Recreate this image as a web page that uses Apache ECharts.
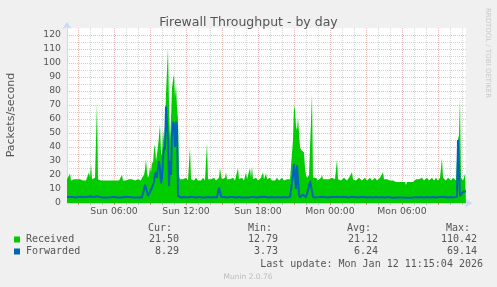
<!DOCTYPE html>
<html><head><meta charset="utf-8">
<script src="https://cdn.jsdelivr.net/npm/echarts@6/dist/echarts.min.js"></script>
<style>html,body{margin:0;padding:0;background:#F0F0F0;}#c{width:497px;height:287px;}</style>
</head><body><div id="c"></div>
<script>
// time axis: one sample per 5 minutes, first sample Sun 02:05
const startMinute = 125;
const stepMinutes = 5;
const dayNames = ['Sun', 'Mon'];

const received = [
 17,17,18,21,16,17,16,17,17,16,17,16,16,17,16,17,16,17,17,16,
 17,20,22,18,28,17,16,17,18,17,72,17,16,17,16,17,16,16,15,16,
 16,16,15,16,16,17,16,15,16,16,16,15,16,16,16,20,16,17,16,16,
 17,16,17,18,16,17,16,17,16,16,16,17,16,17,16,18,17,20,24,31,
 22,18,20,26,22,30,28,38,42,30,35,40,48,56,36,34,52,44,55,78,
 95,110.42,70,45,60,82,88,92,75,85,68,60,20,17,16,17,17,16,17,18,
 17,16,17,40,17,16,17,16,17,18,17,16,17,17,16,17,18,17,16,17,
 43,17,16,17,17,16,17,18,17,16,17,17,18,25,20,17,16,17,18,22,
 17,16,17,17,16,17,18,17,16,17,17,25,17,16,17,18,17,16,17,22,
 17,16,17,25,18,26,17,16,17,18,17,16,17,17,18,20,22,17,18,21,
 17,16,17,18,17,16,17,17,16,17,18,17,16,17,17,18,17,16,17,16,
 17,17,16,17,16,17,45,70,66,55,52,61,50,40,38,38,37,36,25,20,
 18,18,20,20,21,78,18,17,17,18,17,16,17,17,18,20,17,17,16,17,
 18,17,17,16,17,18,17,18,17,17,31,17,18,17,16,17,17,18,17,17,
 16,17,18,17,17,22,17,18,17,16,17,17,18,17,17,16,17,17,18,17,
 16,17,17,18,17,16,17,17,18,17,16,17,17,18,17,17,22,17,16,17,
 17,16,17,16,16,17,16,17,16,15,16,16,15,16,16,15,16,15,15,12.79,
 15,14,15,15,14,15,15,16,16,17,16,17,17,16,17,18,17,16,17,17,
 18,17,16,17,17,18,17,16,17,18,17,16,17,18,17,32,18,17,17,16,
 17,18,17,17,16,17,18,17,17,16,17,46,48,75,18,17,16,18,21,21.5
];
const forwarded = [
 4.2,4.2,4,4.3,4.2,4,4.2,4.4,4.2,4,4.2,4.2,4.4,4.2,4,4.2,4.2,4,4.2,4.3,
 4.2,4.5,4.2,4,4.6,4.2,4,4.2,4.2,4,4.8,4.2,4,4.2,4.2,4,4,4.2,4.2,4,
 4,4.2,4,3.9,4,4.2,4,4,4.2,4,4,3.9,4,4.2,4,4.3,4,4.2,4,4,
 4.2,4,4.2,4.3,4,4.2,4,4.2,4,4,4,4.2,4,4,4,4,4.5,5,13,14,
 8,5,6,8,9,11,10,15,20,22,18,26,30,24,14,18,30,40,38,69,
 69.14,45,12,30,20,48,58,56,40,58,55,5,4,4.2,4,4.2,4,4.2,4,4.2,
 4,4.2,4,4.2,4,4.2,4.3,4,4.2,4,4.2,4,4.2,4,4.2,4,4,4.2,4,4.2,
 4,4.2,4,4.2,4,4.2,4,4.2,4,4.2,4,4.2,11,8,4.5,4.2,4,4.2,4,4.2,
 4,4.2,4,4.2,4,4.2,4.3,4,4.2,4,4.2,4,4.2,4,4.2,4,4,4.2,4,4.2,
 4.2,4,4.2,4,4.2,4,4.3,4.2,4,4.2,4,4.2,4,4.2,4,4.2,4.4,4.2,4,4.2,
 4,4.2,4,4.2,4.5,4.2,4,4.2,4,4.2,4,4.2,4,4.2,4,4.2,4,4.2,4,4.2,
 4,4.2,4,4.2,4,4.5,20,28,28,10,27,26,6,4,4.5,5,6,7,5,4,
 4,4,12,16,16,8,4.2,4,4.2,4,4.2,4,4.2,4,4.2,4.5,4.2,4,4.2,4,
 4.2,4,4.2,4,4.2,4,4.5,4.2,4,4.2,4.5,4.2,4,4.2,4,4.2,4.5,4.2,4,4.2,
 4,4.2,4,4.2,4,4.5,4.2,4,4.2,4,4.2,4,4.2,4,4.2,4,4.2,4.2,4,4.2,
 4,4.2,4,4.2,4,4.2,4,4.2,4,4.2,4,4.2,4,4.2,4,4.2,4.5,4.2,4,4.2,
 4,4.2,4,4.2,4,4,3.9,3.8,3.9,3.8,3.9,3.8,3.8,3.9,3.8,3.8,3.9,3.73,3.8,3.8,
 3.8,3.9,3.8,3.8,3.9,3.8,4,4,4.2,4,4.2,4,4.2,4,4.2,4,4.2,4,4.2,4,
 4.2,4,4.2,4,4.2,4,4.2,4,4.2,4,4.2,4,4.2,4,4.2,4.5,4.2,4,4.2,4,
 4.2,4,4.2,4,4.2,4,4.2,4,4.2,4,4.5,45,45,5,4.5,4,8,8.3,8.3,8.29
];
const yTickLabels = [0,10,20,30,40,50,60,70,80,90,100,110,120];
const seriesNames = ['Received', 'Forwarded'];
const seriesColors = ['#00CC00', '#0066B3'];
const statHeaders = ['Cur:', 'Min:', 'Avg:', 'Max:'];
const receivedStats = ['21.50', '12.79', '21.12', '110.42'];
const forwardedStats = ['8.29', '3.73', '6.24', '69.14'];
const titleText = 'Firewall Throughput - by day';
const yName = 'Packets/second';
const lastUpdate = 'Last update: Mon Jan 12 11:15:04 2026';
const footer = 'Munin 2.0.76';
const watermark = 'RRDTOOL / TOBI OETIKER';

const pad = n => (n < 10 ? '0' : '') + n;
const minuteOf = i => startMinute + stepMinutes * i;
const categories = received.map((_, i) => {
  const m = minuteOf(i);
  return dayNames[Math.floor(m / 1440)] + ' ' + pad(Math.floor((m % 1440) / 60)) + ':' + pad(m % 60);
});
const everyHour = i => minuteOf(i) % 60 === 0;
const every3h = i => minuteOf(i) % 180 === 0;
const every6h = i => minuteOf(i) % 360 === 0;

const RED = '#EBBDBD';
const GRAY = '#D4D4D4';
const ySplitColors = [];
for (let v = 0; v <= 125; v += 5) ySplitColors.push(v % 10 === 0 ? RED : GRAY);

const mono = '10px "DejaVu Sans Mono"';
const txt = '#555';
const colX = [179, 278, 378, 477];
const hdrX = [172, 272, 371, 470];
const graphic = [];
statHeaders.forEach((h, k) => graphic.push({type:'text', x: hdrX[k], y: 228.5, style:{text:h, font:mono, fill:txt, align:'right', verticalAlign:'middle'}}));
[receivedStats, forwardedStats].forEach((row, r) => {
  const y = 239.5 + r * 12;
  graphic.push({type:'rect', shape:{x:14, y:y - 3, width:6, height:6}, style:{fill:seriesColors[r]}});
  graphic.push({type:'text', x:26, y:y, style:{text:seriesNames[r], font:mono, fill:txt, align:'left', verticalAlign:'middle'}});
  row.forEach((v, k) => graphic.push({type:'text', x: colX[k], y: y, style:{text:v, font:mono, fill:txt, align:'right', verticalAlign:'middle'}}));
});
graphic.push({type:'text', x:483, y:264, style:{text:lastUpdate, font:mono, fill:txt, align:'right', verticalAlign:'middle'}});
graphic.push({type:'text', x:248, y:277, style:{text:footer, font:'7.5px "DejaVu Sans"', fill:'#bbb', align:'center', verticalAlign:'middle'}});
graphic.push({type:'text', x:488, y:53, rotation:-Math.PI/2, style:{text:watermark, font:'7px "DejaVu Sans"', fill:'#c8c8c8', align:'center', verticalAlign:'middle'}});
graphic.push({type:'text', x:11, y:115, rotation:Math.PI/2, style:{text:yName, font:'11px "DejaVu Sans"', fill:txt, align:'center', verticalAlign:'middle'}});

const chart = echarts.init(document.getElementById('c'), null, {renderer:'canvas'});
chart.setOption({
  backgroundColor: '#F0F0F0',
  animation: false,
  title: {text: titleText, left: 'center', top: 11, textStyle: {fontFamily:'DejaVu Sans', fontSize:12.5, fontWeight:'normal', color:'#555'}},
  grid: {left: 67, top: 28, width: 399, height: 175, show: true, backgroundColor: '#fff', borderWidth: 0},
  xAxis: [
    {type:'category', data: categories, boundaryGap:false, position:'bottom',
     axisLine:{show:false}, axisLabel:{show:false},
     axisTick:{show:true, interval: everyHour, length:2, lineStyle:{color:'#bbb'}},
     splitLine:{show:true, interval: everyHour, lineStyle:{color:GRAY, type:[1,1], width:1}}},
    {type:'category', data: categories, boundaryGap:false, position:'bottom',
     axisLine:{show:true, symbol:['none','arrow'], symbolSize:[7,7], symbolOffset:[0,6], lineStyle:{color:'#CFD6F8', width:1}},
     axisTick:{show:true, interval: every3h, length:2, lineStyle:{color:'#e08080'}},
     axisLabel:{show:true, interval: every6h, color:txt, fontFamily:'DejaVu Sans', fontSize:9.3, margin:4},
     splitLine:{show:true, interval: every3h, lineStyle:{color:RED, type:[1,1], width:1}}}
  ],
  yAxis: {type:'value', min:0, max:125, interval:5,
    axisLine:{show:true, symbol:['none','arrow'], symbolSize:[7,7], symbolOffset:[0,6], lineStyle:{color:'#CFD6F8', width:1}},
    axisTick:{show:false},
    axisLabel:{color:txt, fontFamily:'DejaVu Sans', fontSize:9.3, margin:6, formatter: v => yTickLabels.includes(v) ? String(v) : ''},
    splitLine:{show:true, showMaxLine:false, lineStyle:{color:ySplitColors, type:[1,1], width:1}}
  },
  series: [
    {name: seriesNames[0], type:'line', data: received, symbol:'none', silent:true,
     lineStyle:{width:0}, areaStyle:{color:seriesColors[0], opacity:1}, z:2},
    {name: seriesNames[1], type:'line', data: forwarded, symbol:'none', silent:true,
     lineStyle:{width:2, color:seriesColors[1]}, z:3}
  ],
  graphic: graphic
});
</script></body></html>
